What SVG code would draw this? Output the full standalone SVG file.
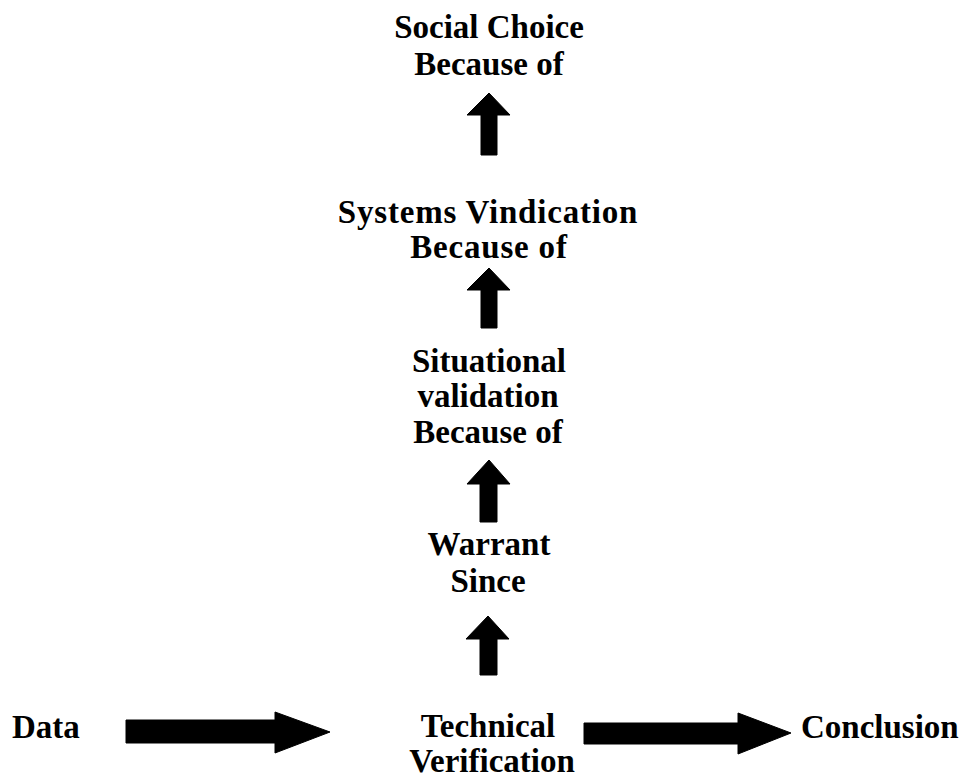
<svg xmlns="http://www.w3.org/2000/svg" width="968" height="779" viewBox="0 0 968 779">
  <style>
    .lbl { font-family: "Liberation Serif", "Times New Roman", serif; font-weight: bold; font-size: 33px; fill: #000; text-anchor: middle; }
    .wide { letter-spacing: 0.8px; }
    .start { text-anchor: start; }
    .arrow { fill: #000; stroke: #000; stroke-width: 1; stroke-linejoin: round; }
  </style>
  <rect width="968" height="779" fill="#fff"/>

  <g id="social-choice">
    <text class="lbl" x="489" y="38">Social Choice</text>
    <text class="lbl" x="489" y="75">Because of</text>
  </g>

  <g id="systems-vindication">
    <text class="lbl wide" x="488" y="223">Systems Vindication</text>
    <text class="lbl wide" x="489" y="258">Because of</text>
  </g>

  <g id="situational-validation">
    <text class="lbl" x="489" y="372">Situational</text>
    <text class="lbl" x="488" y="407">validation</text>
    <text class="lbl" x="488" y="443">Because of</text>
  </g>

  <g id="warrant">
    <text class="lbl" x="489" y="555">Warrant</text>
    <text class="lbl" x="488" y="592">Since</text>
  </g>

  <g id="data">
    <text class="lbl start" x="12" y="738">Data</text>
  </g>

  <g id="technical-verification">
    <text class="lbl" x="488" y="737">Technical</text>
    <text class="lbl" x="492" y="772">Verification</text>
  </g>

  <g id="conclusion">
    <text class="lbl start" x="801" y="738">Conclusion</text>
  </g>

  <g id="connectors">
    <!-- upward block arrows -->
    <polygon class="arrow" points="489,93 510,115 497,115 497,155 481,155 481,115 467,115"/>
    <polygon class="arrow" points="489,268 510,290 497,290 497,328 481,328 481,290 467,290"/>
    <polygon class="arrow" points="489,460 510,484 497,484 497,522 480,522 480,484 467,484"/>
    <polygon class="arrow" points="488,616 509,639 497,639 497,675 480,675 480,639 466,639"/>
    <!-- rightward block arrows -->
    <polygon class="arrow" points="126,720 275,720 275,712 330,732 275,753 275,743 126,743"/>
    <polygon class="arrow" points="584,723 738,723 738,713 791,733 738,754 738,744 584,744"/>
  </g>
</svg>
